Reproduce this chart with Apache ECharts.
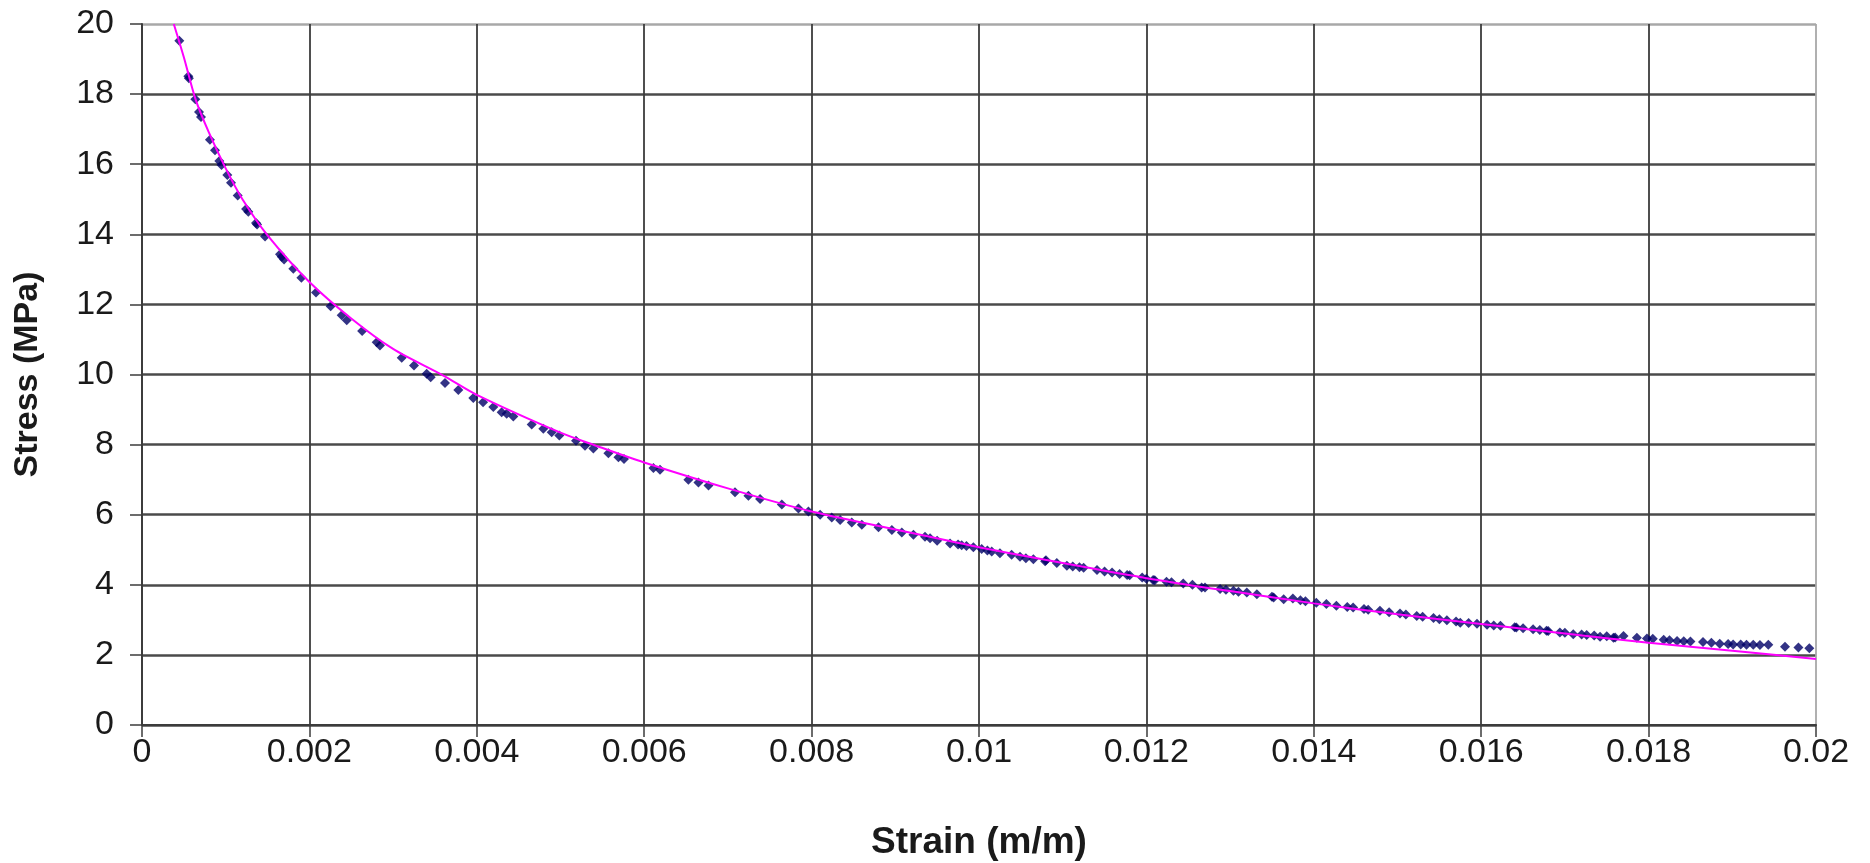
<!DOCTYPE html>
<html>
<head>
<meta charset="utf-8">
<style>
  html, body { margin: 0; padding: 0; background: #ffffff; }
  #chart { width: 1870px; height: 863px; }
</style>
<script src="https://cdn.jsdelivr.net/npm/echarts@6/dist/echarts.min.js"></script>
</head>
<body>
<div id="chart"></div>
<script>
// Measured strain (m/m)
const strain = [
  0.000446, 0.000553, 0.000560, 0.000637, 0.000681, 0.000705, 0.000812, 0.000872, 0.000924, 0.000950,
  0.001019, 0.001063, 0.001143, 0.001243, 0.001270, 0.001362, 0.001375, 0.001470, 0.001649, 0.001670,
  0.001697, 0.001808, 0.001904, 0.002079, 0.002254, 0.002386, 0.002446, 0.002630, 0.002804, 0.002843,
  0.003103, 0.003250, 0.003401, 0.003449, 0.003620, 0.003779, 0.003958, 0.004075, 0.004197, 0.004297,
  0.004357, 0.004436, 0.004656, 0.004795, 0.004895, 0.004986, 0.005185, 0.005293, 0.005393, 0.005572,
  0.005692, 0.005759, 0.006110, 0.006189, 0.006528, 0.006648, 0.006768, 0.007085, 0.007245, 0.007384,
  0.007644, 0.007843, 0.007962, 0.008102, 0.008241, 0.008341, 0.008480, 0.008600, 0.008799, 0.008959,
  0.009078, 0.009217, 0.009355, 0.009415, 0.009654, 0.009750, 0.009793, 0.009933, 0.010032, 0.010100,
  0.010152, 0.010390, 0.010490, 0.010650, 0.010790, 0.010800, 0.010930, 0.011050, 0.011200, 0.011250,
  0.011410, 0.011590, 0.011770, 0.011800, 0.011950, 0.012080, 0.012100, 0.012240, 0.012300, 0.012440,
  0.012660, 0.012700, 0.012880, 0.013040, 0.013100, 0.013320, 0.013500, 0.013520, 0.013640, 0.013840,
  0.013900, 0.014030, 0.014270, 0.014400, 0.014470, 0.014600, 0.014790, 0.015030, 0.015100, 0.015230,
  0.015300, 0.015430, 0.015590, 0.015700, 0.015750, 0.015950, 0.016070, 0.016230, 0.016400, 0.016420,
  0.016620, 0.016780, 0.016800, 0.016940, 0.017100, 0.017200, 0.017260, 0.017420, 0.017580, 0.017600,
  0.017700, 0.017860, 0.017980, 0.018180, 0.018340, 0.018500, 0.018650, 0.018850, 0.019010, 0.019170,
  0.019330, 0.019430, 0.019630, 0.019790, 0.019920,
  0.009500, 0.009850, 0.010250, 0.010560, 0.011120, 0.011500, 0.011680, 0.012000, 0.012550, 0.012950,
  0.013200, 0.013750, 0.014150, 0.014650, 0.014900, 0.015500, 0.015850, 0.016150, 0.016500, 0.016700,
  0.017000, 0.017350, 0.017500, 0.018050, 0.018250, 0.018420, 0.018750, 0.018950, 0.019100, 0.019250
];
// Measured stress (MPa)
const stress = [
  19.52, 18.51, 18.45, 17.85, 17.49, 17.35, 16.70, 16.40, 16.09, 15.98,
  15.69, 15.47, 15.11, 14.72, 14.64, 14.32, 14.28, 13.94, 13.43, 13.36,
  13.28, 13.02, 12.76, 12.34, 11.95, 11.69, 11.55, 11.24, 10.92, 10.83,
  10.48, 10.26, 10.02, 9.92, 9.76, 9.56, 9.33, 9.21, 9.07, 8.92,
  8.88, 8.80, 8.57, 8.45, 8.35, 8.26, 8.11, 7.97, 7.89, 7.75,
  7.64, 7.59, 7.33, 7.28, 7.00, 6.92, 6.83, 6.64, 6.54, 6.45,
  6.29, 6.18, 6.09, 6.00, 5.92, 5.85, 5.78, 5.71, 5.64, 5.56,
  5.49, 5.43, 5.37, 5.33, 5.18, 5.15, 5.13, 5.07, 5.02, 4.98,
  4.95, 4.86, 4.80, 4.73, 4.67, 4.70, 4.62, 4.54, 4.50, 4.49,
  4.42, 4.35, 4.28, 4.27, 4.21, 4.14, 4.13, 4.09, 4.07, 4.04,
  3.92, 3.92, 3.88, 3.83, 3.80, 3.73, 3.66, 3.64, 3.59, 3.56,
  3.53, 3.49, 3.40, 3.37, 3.35, 3.31, 3.26, 3.18, 3.15, 3.11,
  3.09, 3.05, 2.99, 2.95, 2.92, 2.89, 2.86, 2.83, 2.79, 2.78,
  2.73, 2.69, 2.68, 2.64, 2.59, 2.58, 2.57, 2.52, 2.49, 2.50,
  2.54, 2.49, 2.47, 2.43, 2.40, 2.38, 2.37, 2.32, 2.30, 2.29,
  2.28, 2.29, 2.23, 2.21, 2.19,
  5.26, 5.11, 4.90, 4.76, 4.52, 4.38, 4.31, 4.17, 4.00, 3.86,
  3.78, 3.61, 3.45, 3.29, 3.22, 3.02, 2.91, 2.84, 2.76, 2.71,
  2.63, 2.55, 2.53, 2.46, 2.42, 2.39, 2.35, 2.31, 2.30, 2.29
];
// Trend line
const trendStrain = [0.00038, 0.0005, 0.00064, 0.0008, 0.001, 0.0012, 0.0015, 0.002, 0.0025, 0.003,
  0.0036, 0.004, 0.005, 0.0054, 0.006, 0.007, 0.008, 0.009, 0.01, 0.011,
  0.012, 0.013, 0.014, 0.015, 0.016, 0.017, 0.018, 0.019, 0.02];
const trendStress = [20.0, 19.05, 17.85, 16.9, 15.88, 15.0, 13.97, 12.64, 11.6, 10.73,
  9.97, 9.42, 8.34, 7.99, 7.49, 6.75, 6.09, 5.58, 5.07, 4.62,
  4.19, 3.82, 3.47, 3.16, 2.88, 2.61, 2.35, 2.12, 1.88];
const xTicks = { min: 0, max: 0.02, interval: 0.002 };
const yTicks = { min: 0, max: 20, interval: 2 };

const FONT = "'Liberation Sans', Arial, sans-serif";
const chart = echarts.init(document.getElementById('chart'), null, { renderer: 'canvas' });

const yCount = Math.round((yTicks.max - yTicks.min) / yTicks.interval);
const yGridColors = [];
for (let i = 0; i <= yCount; i++) yGridColors.push(i === yCount ? '#a8a8a8' : '#4a4a4a');
const xCount = Math.round((xTicks.max - xTicks.min) / xTicks.interval);
const xGridColors = [];
for (let i = 0; i <= xCount; i++) xGridColors.push(i === xCount ? '#a8a8a8' : '#3c3c3c');

chart.setOption({
  animation: false,
  backgroundColor: '#ffffff',
  grid: { left: 142, right: 54, top: 24, bottom: 138, containLabel: false, outerBoundsMode: 'none' },
  xAxis: {
    type: 'value',
    min: xTicks.min, max: xTicks.max, interval: xTicks.interval,
    name: 'Strain (m/m)',
    nameLocation: 'middle',
    nameGap: 99,
    nameTextStyle: { fontFamily: FONT, fontWeight: 'bold', fontSize: 37, color: '#1a1a1a' },
    axisLine: { show: true, lineStyle: { color: '#3c3c3c', width: 2 } },
    axisTick: { show: true, inside: false, length: 12, lineStyle: { color: '#3c3c3c', width: 1.5 } },
    axisLabel: {
      margin: 11, fontFamily: FONT, fontSize: 34, color: '#1a1a1a',
      formatter: v => String(parseFloat(v.toFixed(4)))
    },
    splitLine: { show: true, lineStyle: { color: xGridColors, width: 1.8 } }
  },
  yAxis: {
    type: 'value',
    min: yTicks.min, max: yTicks.max, interval: yTicks.interval,
    name: 'Stress (MPa)',
    nameLocation: 'middle',
    nameGap: 97,
    nameTextStyle: { fontFamily: FONT, fontWeight: 'bold', fontSize: 34, color: '#1a1a1a' },
    axisLine: { show: true, lineStyle: { color: '#3c3c3c', width: 2 } },
    axisTick: { show: true, inside: false, length: 12, lineStyle: { color: '#3c3c3c', width: 1.5 } },
    axisLabel: { margin: 28, fontFamily: FONT, fontSize: 34, color: '#1a1a1a' },
    splitLine: { show: true, lineStyle: { color: yGridColors, width: 2.5 } }
  },
  series: [
    {
      type: 'scatter',
      data: strain.map((x, i) => [x, stress[i]]),
      symbol: 'diamond',
      symbolSize: 10,
      itemStyle: { color: '#000066' },
      z: 3
    },
    {
      type: 'line',
      data: trendStrain.map((x, i) => [x, trendStress[i]]),
      smooth: 0.3,
      showSymbol: false,
      symbol: 'none',
      lineStyle: { color: '#ff00ff', width: 2 },
      z: 4
    }
  ]
});
</script>
</body>
</html>
